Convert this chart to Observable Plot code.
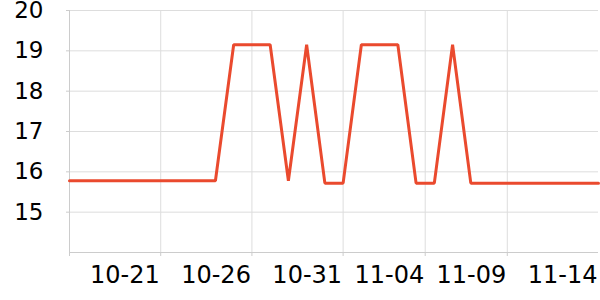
<!DOCTYPE html>
<html>
<head>
<meta charset="utf-8">
<script src="https://cdn.jsdelivr.net/npm/d3@7"></script>
<script src="https://cdn.jsdelivr.net/npm/@observablehq/plot@0.6"></script>
<style>
  html, body { margin: 0; padding: 0; background: #fff; }
</style>
</head>
<body>
<div id="chart"></div>
<script>
// Data: daily values
const dates = [
  "2023-10-16","2023-10-17","2023-10-18","2023-10-19","2023-10-20",
  "2023-10-21","2023-10-22","2023-10-23","2023-10-24","2023-10-25",
  "2023-10-26","2023-10-27","2023-10-28","2023-10-29","2023-10-30",
  "2023-10-31","2023-11-01","2023-11-02","2023-11-03","2023-11-04",
  "2023-11-05","2023-11-06","2023-11-07","2023-11-08","2023-11-09",
  "2023-11-10","2023-11-11","2023-11-12","2023-11-13","2023-11-14"
];
const values = [
  15.78, 15.78, 15.78, 15.78, 15.78,
  15.78, 15.78, 15.78, 15.78, 19.15,
  19.15, 19.15, 15.78, 19.15, 15.72,
  15.72, 19.15, 19.15, 19.15, 15.72,
  15.72, 19.15, 15.72, 15.72, 15.72,
  15.72, 15.72, 15.72, 15.72, 15.72
];
// Tick values
const gridTicks = ["2023-10-16","2023-10-21","2023-10-26","2023-10-31","2023-11-04T12:00:00Z","2023-11-09"];
const labelTicks = ["2023-10-21","2023-10-26","2023-10-31","2023-11-04T12:00:00Z","2023-11-09","2023-11-14"];
const yTicks = [15, 16, 17, 18, 19, 20];
const yDomain = [14, 20];

const parse = s => new Date(s.length === 10 ? s + "T00:00:00Z" : s);
const data = dates.map((d, i) => ({date: parse(d), value: values[i]}));
const fmt = d3.utcFormat("%m-%d");

const chart = Plot.plot({
  width: 600,
  height: 300,
  marginLeft: 69,
  marginRight: 2,
  marginTop: 10,
  marginBottom: 48,
  style: {fontFamily: "DejaVu Sans", fontSize: "22px", color: "#000", background: "#fff"},
  x: {type: "utc", domain: [data[0].date, data[data.length - 1].date]},
  y: {domain: yDomain},
  marks: [
    Plot.gridY(yTicks, {stroke: "#ddd", strokeOpacity: 1, strokeWidth: 1}),
    Plot.gridX(gridTicks.map(parse), {stroke: "#ddd", strokeOpacity: 1, strokeWidth: 1}),
    Plot.axisX(gridTicks.map(parse), {tickSize: 4, stroke: "#ccc", strokeOpacity: 1, tickFormat: () => "", label: null}),
    Plot.axisX(labelTicks.map(parse), {tickSize: 0, tickPadding: 13, textAnchor: "end", dx: -1, fontSize: 24, fill: "#000", tickFormat: fmt, label: null}),
    Plot.axisY(yTicks, {tickSize: 3, tickPadding: 23, stroke: "#ccc", strokeOpacity: 1, fontSize: 23, fill: "#000", label: null}),
    Plot.ruleX([data[0].date], {stroke: "#ccc", strokeWidth: 1}),
    Plot.ruleY([yDomain[0]], {stroke: "#ccc", strokeWidth: 1}),
    Plot.line(data, {x: "date", y: "value", stroke: "#ea4a2e", strokeWidth: 3, strokeLinejoin: "miter", curve: "linear"})
  ]
});
document.getElementById("chart").appendChild(chart);
</script>
</body>
</html>
